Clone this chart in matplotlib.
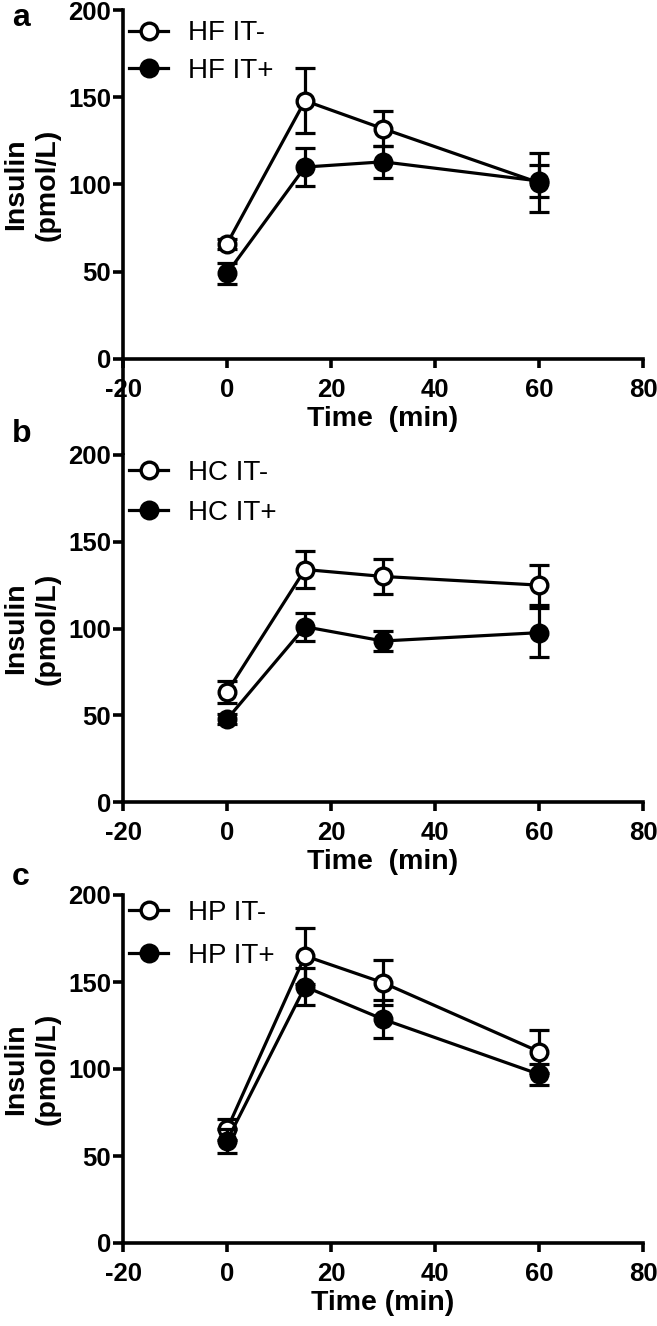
import matplotlib
matplotlib.use("Agg")
import matplotlib.pyplot as plt
from matplotlib.lines import Line2D

plt.rcParams['font.family'] = ['Liberation Sans', 'DejaVu Sans']
plt.rcParams['axes.unicode_minus'] = False

# ---------------- data ----------------
time_min = [0, 15, 30, 60]

panel_letters = ['a', 'b', 'c']
labels_minus = ['HF IT-', 'HC IT-', 'HP IT-']
labels_plus = ['HF IT+', 'HC IT+', 'HP IT+']
xlabels = ['Time  (min)', 'Time  (min)', 'Time (min)']

hf_minus = [66, 148, 132, 101]
hf_minus_err = [3, 18.5, 10, 17]
hf_plus = [49, 110, 113, 102]
hf_plus_err = [6, 11, 9, 9]

hc_minus = [63.5, 134, 130, 125]
hc_minus_err = [6.5, 10.5, 10, 11.5]
hc_plus = [47.7, 101, 92.8, 97.6]
hc_plus_err = [3, 8, 6, 14]

hp_minus = [65.3, 165, 149.6, 110]
hp_minus_err = [6, 16, 13, 12.5]
hp_plus = [58.8, 147.3, 128.6, 97]
hp_plus_err = [7, 10.5, 11, 6]

minus_vals = [hf_minus, hc_minus, hp_minus]
minus_errs = [hf_minus_err, hc_minus_err, hp_minus_err]
plus_vals = [hf_plus, hc_plus, hp_plus]
plus_errs = [hf_plus_err, hc_plus_err, hp_plus_err]

x_ticks = [-20, 0, 20, 40, 60, 80]
y_ticks = [0, 50, 100, 150, 200]

# ---------------- layout ----------------
W, H = 657, 1326
fig = plt.figure(figsize=(W / 100, H / 100), dpi=100)

left_px, right_px = 123, 643
panel_px = [(10, 359), (455, 802), (895, 1243)]
letter_base_px = [26, 442, 885]
legend_top = [0.97, 0.985, 0.985]
legend_spacing = [0.42, 0.5, 0.6]

LW = 2.6
axes = []
for i in range(3):
    top, bot = panel_px[i]
    ax = fig.add_axes([left_px / W, 1 - bot / H, (right_px - left_px) / W, (bot - top) / H])
    axes.append(ax)
    ax.set_xlim(-20, 80)
    ax.set_ylim(0, 200)
    for s in ['top', 'right']:
        ax.spines[s].set_visible(False)
    for s in ['left', 'bottom']:
        ax.spines[s].set_linewidth(LW)

    ax.errorbar(time_min, minus_vals[i], yerr=minus_errs[i], fmt='none',
                ecolor='black', elinewidth=2.3, capsize=7, capthick=2.3, zorder=2)
    ax.plot(time_min, minus_vals[i], color='black', lw=2.3, marker='o', ms=12,
            mfc='white', mec='black', mew=2.4, zorder=3, clip_on=False)
    ax.errorbar(time_min, plus_vals[i], yerr=plus_errs[i], fmt='none',
                ecolor='black', elinewidth=2.3, capsize=7, capthick=2.3, zorder=4)
    ax.plot(time_min, plus_vals[i], color='black', lw=2.3, marker='o', ms=12,
            mfc='black', mec='black', mew=2.4, zorder=5, clip_on=False)

    ax.set_xticks(x_ticks)
    ax.set_yticks(y_ticks)
    ax.tick_params(axis='x', length=6.5, width=LW, pad=7, labelsize=18.5)
    ax.tick_params(axis='y', length=7, width=LW, pad=1.5, labelsize=18.5)
    for lab in ax.get_xticklabels() + ax.get_yticklabels():
        lab.set_fontweight('bold')

    ax.set_ylabel('Insulin\n(pmol/L)', fontsize=20.5, fontweight='bold', linespacing=1.25)
    ax.yaxis.set_label_coords(-0.12, 0.5)
    ax.set_xlabel(xlabels[i], fontsize=20.5, fontweight='bold')
    ax.xaxis.set_label_coords(0.5, -0.135)

    h1 = Line2D([], [], color='black', lw=2.3, marker='o', ms=12, mfc='white', mec='black', mew=2.4)
    h2 = Line2D([], [], color='black', lw=2.3, marker='o', ms=12, mfc='black', mec='black', mew=2.4)
    ax.legend([h1, h2], [labels_minus[i], labels_plus[i]], loc='upper left',
              bbox_to_anchor=(0.012, legend_top[i]), borderaxespad=0, borderpad=0,
              frameon=False, handlelength=1.4, handletextpad=0.7,
              labelspacing=legend_spacing[i], fontsize=20)

    fig.text(12 / W, 1 - letter_base_px[i] / H, panel_letters[i], fontsize=23,
             fontweight='bold', ha='left', va='baseline')

# panel b's left axis line continues up to panel a's x axis (as in the reference)
ext = (455 - 359) / (802 - 455)
axes[1].add_line(Line2D([0, 0], [1.0, 1.0 + ext], transform=axes[1].transAxes,
                        color='black', lw=LW, clip_on=False, zorder=10,
                        solid_capstyle='butt'))

fig.savefig('out.png', dpi=100)
